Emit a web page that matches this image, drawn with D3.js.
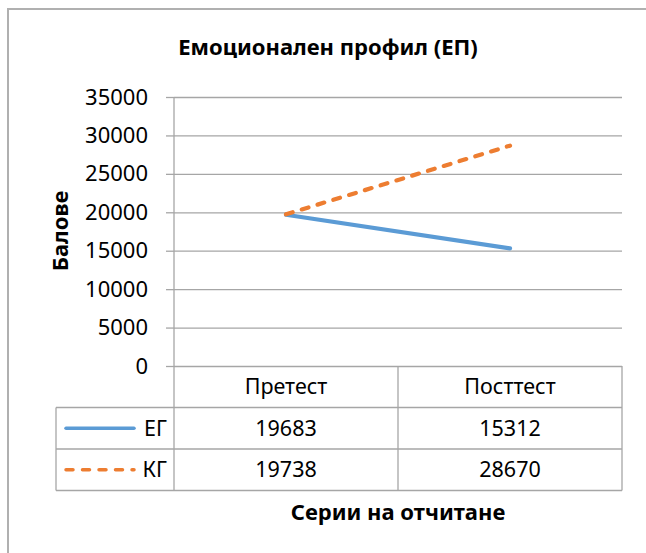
<!DOCTYPE html>
<html>
<head>
<meta charset="utf-8">
<title></title>
<style>
* { margin: 0; padding: 0; }
html, body { width: 646px; height: 553px; background: #fff; overflow: hidden; }
svg { display: block; overflow: hidden; font-family: "Noto Sans", "Open Sans", sans-serif; }
</style>
</head>
<body>
<script src="https://cdn.jsdelivr.net/npm/d3@7"></script>
<script>
// данни
const categories = ["Претест", "Посттест"];
const seriesNames = ["ЕГ", "КГ"];
const egValues = [19683, 15312];
const kgValues = [19738, 28670];
const yTicks = [0, 5000, 10000, 15000, 20000, 25000, 30000, 35000];

const width = 646, height = 553;
const plot = { left: 174, right: 622, top: 97, bottom: 366 };
const table = { left: 56, rowH: 41.5 };
const colors = ["#5B9BD5", "#ED7D31"];
const dashes = [null, "7 9.5"];
const gridColor = "#a6a6a6";

const svg = d3.select("body").append("svg")
  .attr("width", width)
  .attr("height", height);

// рамка на диаграмата (само горе и ляво се виждат)
svg.append("path")
  .attr("d", `M8,${height}V9H${width}`)
  .attr("fill", "none")
  .attr("stroke", "#b0b0b0")
  .attr("stroke-width", 2);

const x = d3.scaleBand()
  .domain(categories)
  .range([plot.left, plot.right])
  .padding(0);

const y = d3.scaleLinear()
  .domain([0, 35000])
  .range([plot.bottom, plot.top]);

// y ос с решетка
const yAxis = svg.append("g")
  .attr("transform", `translate(${plot.left},0)`)
  .call(d3.axisLeft(y).tickValues(yTicks).tickFormat(d3.format("d")).tickSize(8).tickPadding(18));
yAxis.select(".domain").remove();
yAxis.selectAll(".tick line").attr("stroke", gridColor).attr("stroke-width", 1.3)
  .clone()
  .attr("x2", 0)
  .attr("x1", plot.right - plot.left);
yAxis.selectAll(".tick text")
  .attr("font-family", "Noto Sans")
  .attr("font-size", 22)
  .attr("fill", "#000");

// вертикална ос + таблица
const rows = [egValues, kgValues];
const headerBottom = plot.bottom + table.rowH;
const tableBottom = headerBottom + table.rowH * rows.length;
const g = svg.append("g").attr("stroke", gridColor).attr("stroke-width", 1.3);

g.append("line")
  .attr("x1", plot.left).attr("x2", plot.left)
  .attr("y1", plot.top).attr("y2", tableBottom);
[categories[1]].forEach(c => {
  g.append("line")
    .attr("x1", x(c)).attr("x2", x(c))
    .attr("y1", plot.bottom).attr("y2", tableBottom);
});
g.append("line")
  .attr("x1", plot.right).attr("x2", plot.right)
  .attr("y1", plot.bottom).attr("y2", tableBottom);
g.append("line")
  .attr("x1", table.left).attr("x2", table.left)
  .attr("y1", headerBottom).attr("y2", tableBottom);
d3.range(rows.length + 1).forEach(i => {
  g.append("line")
    .attr("x1", table.left).attr("x2", plot.right)
    .attr("y1", headerBottom + i * table.rowH)
    .attr("y2", headerBottom + i * table.rowH);
});

// заглавия на колони
svg.append("g").selectAll("text")
  .data(categories)
  .join("text")
  .attr("x", d => x(d) + x.bandwidth() / 2)
  .attr("y", plot.bottom + table.rowH / 2)
  .attr("dy", "0.35em")
  .attr("text-anchor", "middle")
  .attr("font-size", 21.5)
  .text(d => d);

// стойности + легенда
rows.forEach((vals, i) => {
  const cy = headerBottom + table.rowH * (i + 0.5);
  svg.append("g").selectAll("text")
    .data(vals)
    .join("text")
    .attr("x", (d, j) => x(categories[j]) + x.bandwidth() / 2)
    .attr("y", cy)
    .attr("dy", "0.35em")
    .attr("text-anchor", "middle")
    .attr("font-size", 21.5)
    .text(d => d);
  svg.append("line")
    .attr("x1", 66).attr("x2", 134)
    .attr("y1", cy).attr("y2", cy)
    .attr("stroke", colors[i])
    .attr("stroke-width", 3.5)
    .attr("stroke-linecap", "round")
    .attr("stroke-dasharray", dashes[i]);
  svg.append("text")
    .attr("x", 167).attr("y", cy)
    .attr("dy", "0.35em")
    .attr("text-anchor", "end")
    .attr("font-size", 21.5)
    .text(seriesNames[i]);
});

// линии
const line = d3.line()
  .x((d, j) => x(categories[j]) + x.bandwidth() / 2)
  .y(d => y(d));
rows.forEach((vals, i) => {
  svg.append("path")
    .datum(vals)
    .attr("fill", "none")
    .attr("stroke", colors[i])
    .attr("stroke-width", 4.2)
    .attr("stroke-linecap", "round")
    .attr("stroke-dasharray", dashes[i])
    .attr("d", line);
});

// заглавия
svg.append("text")
  .attr("x", 328).attr("y", 47)
  .attr("dy", "0.35em")
  .attr("text-anchor", "middle")
  .attr("font-weight", "bold")
  .attr("font-size", 22)
  .text("Емоционален профил (ЕП)");

svg.append("text")
  .attr("x", (plot.left + plot.right) / 2).attr("y", 512)
  .attr("dy", "0.35em")
  .attr("text-anchor", "middle")
  .attr("font-weight", "bold")
  .attr("font-size", 22)
  .text("Серии на отчитане");

svg.append("text")
  .attr("transform", "translate(60,231) rotate(-90)")
  .attr("dy", "0.35em")
  .attr("text-anchor", "middle")
  .attr("font-weight", "bold")
  .attr("font-size", 22)
  .text("Балове");
</script>
</body>
</html>
